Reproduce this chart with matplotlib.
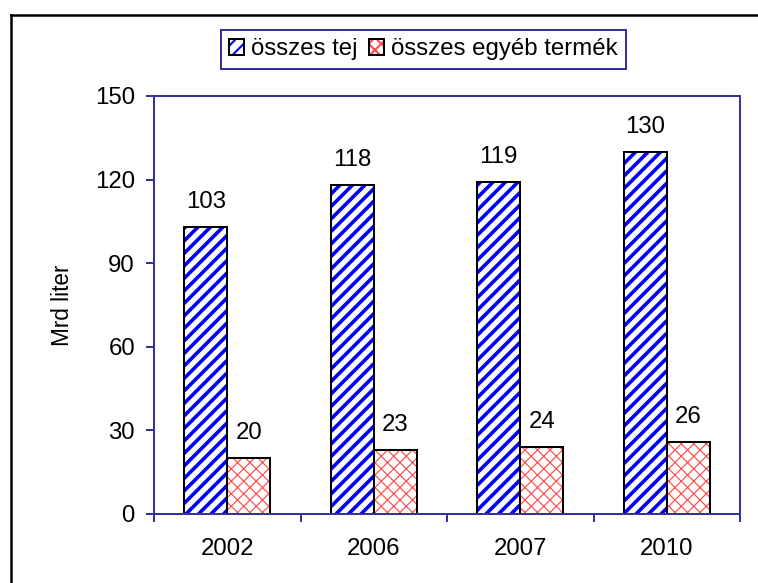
"""Bar chart: összes tej vs összes egyéb termék (Mrd liter)."""

import matplotlib

matplotlib.use("Agg")
import matplotlib.pyplot as plt  # noqa: E402
import numpy as np  # noqa: E402
from matplotlib.legend_handler import HandlerTuple  # noqa: E402
from matplotlib.lines import Line2D  # noqa: E402

years = ["2002", "2006", "2007", "2010"]
milk = [103, 118, 119, 130]
other = [20, 23, 24, 26]
series_names = ["összes tej", "összes egyéb termék"]

W, H, DPI = 759, 583, 150
NAVY = "#333399"
PX = 72.0 / DPI  # points per pixel

plt.rcParams["font.family"] = ["Liberation Sans", "DejaVu Sans"]

fig = plt.figure(figsize=(W / DPI, H / DPI), dpi=DPI)
ax = fig.add_axes([154 / W, 1 - 514 / H, (740 - 154) / W, (514 - 96) / H])

x = np.arange(len(years))
w = 0.293


def hatched(xpos, vals, color, hatch, hlw):
    with plt.rc_context({"hatch.linewidth": hlw}):
        bars = ax.bar(xpos, vals, w, facecolor="white", edgecolor=color,
                      hatch=hatch, linewidth=0)
    for p in bars:
        if hasattr(p, "set_hatch_linewidth"):
            p.set_hatch_linewidth(hlw)
    edges = ax.bar(xpos, vals, w, fill=False, edgecolor="black", linewidth=2 * PX)
    return bars, edges


b1 = hatched(x - w / 2, milk, "#0000ff", "////", 3.6 * PX)
b2 = hatched(x + w / 2, other, "#ff4d4d", "xxxx", 1.2 * PX)

fs = 24 * PX
for xs, vals in ((x - w / 2, milk), (x + w / 2, other)):
    for xi, v in zip(xs, vals):
        ax.annotate(f"{v}", (xi, v), xytext=(0, 25 * PX), textcoords="offset points",
                    ha="center", va="center", fontsize=fs)

ax.set_xlim(-0.5, len(years) - 0.5)
ax.set_ylim(0, 150)
ax.set_yticks(range(0, 151, 30))
ax.set_xticks(np.arange(len(years) + 1) - 0.5)
ax.set_xticklabels([])
ax.set_xticks(x, minor=True)
ax.set_xticklabels(years, minor=True)
ax.tick_params(axis="x", which="minor", length=0, pad=24 * PX)
ax.tick_params(axis="both", which="major", length=8 * PX, width=2 * PX, color=NAVY,
               direction="out", labelsize=fs)
ax.tick_params(axis="y", pad=11 * PX)
ax.tick_params(axis="x", which="minor", labelsize=fs)
for s in ax.spines.values():
    s.set_color(NAVY)
    s.set_linewidth(2 * PX)

ax.set_ylabel("Mrd liter", fontsize=22.5 * PX, labelpad=0)
ax.yaxis.set_label_coords((74 - 154) / (740 - 154), 0.5)

leg = ax.legend([b1, b2], series_names, ncol=2, loc="center",
                bbox_to_anchor=(423.5 / W, 1 - 49.5 / H), bbox_transform=fig.transFigure,
                handler_map={tuple: HandlerTuple(ndivide=1)},
                fontsize=fs, frameon=True, fancybox=False, framealpha=1,
                handlelength=0.6, handleheight=0.6, handletextpad=0.3,
                columnspacing=0.5, borderpad=0.35)
leg.get_frame().set_edgecolor(NAVY)
leg.get_frame().set_linewidth(2 * PX)

# outer chart frame (only top and left edges visible)
fx, fy = 11 / W, 1 - 15 / H
fig.add_artist(Line2D([fx, 1], [fy, fy], color="black", linewidth=2.5 * PX,
                      transform=fig.transFigure))
fig.add_artist(Line2D([fx, fx], [0, fy], color="black", linewidth=2.5 * PX,
                      transform=fig.transFigure))

fig.savefig("out.png", dpi=DPI)
